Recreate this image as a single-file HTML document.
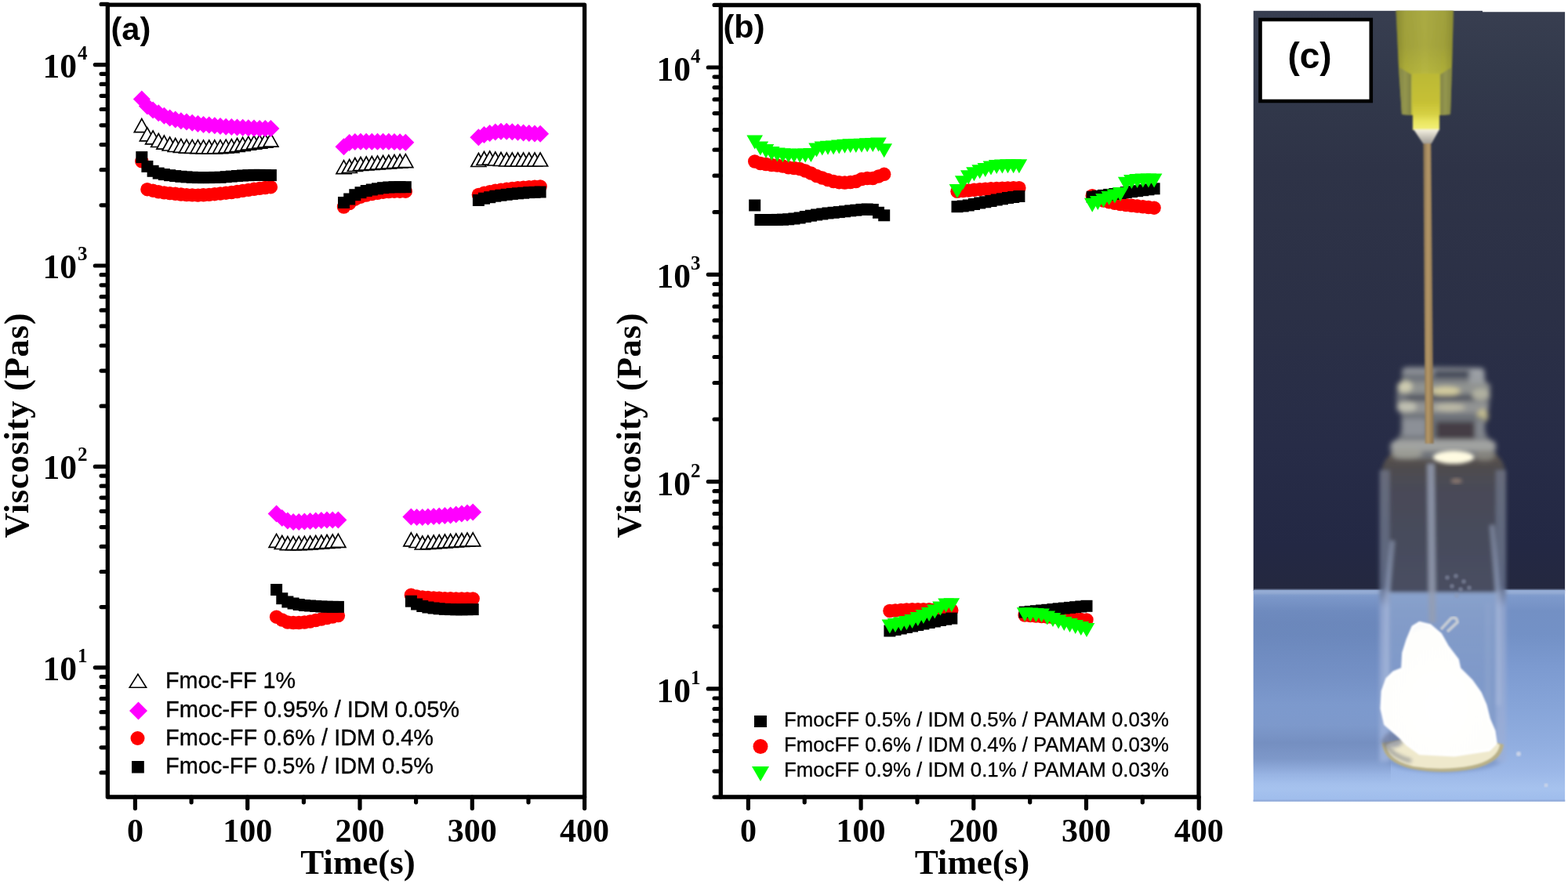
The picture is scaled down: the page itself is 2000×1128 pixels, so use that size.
<!DOCTYPE html>
<html lang="en"><head><meta charset="utf-8"><title>Viscosity recovery of Fmoc-FF hydrogels</title>
<style>html,body{margin:0;padding:0;background:#fff}body{width:2000px;height:1128px;overflow:hidden}svg{display:block}text{fill:#000}</style>
</head><body>
<svg width="2000" height="1128" viewBox="0 0 2000 1128">
<rect width="2000" height="1128" fill="#fff"/>
<g id="chart-a">
<path d="M180.8 151.6L190.3 168.6L171.3 168.6Z" fill="#fff" stroke="#000" stroke-width="1.7" stroke-linejoin="miter"/>
<path d="M187.9 162.8L197.4 179.8L178.4 179.8Z" fill="#fff" stroke="#000" stroke-width="1.7" stroke-linejoin="miter"/>
<path d="M195.1 166.9L204.6 183.9L185.6 183.9Z" fill="#fff" stroke="#000" stroke-width="1.7" stroke-linejoin="miter"/>
<path d="M202.2 170.5L211.7 187.5L192.7 187.5Z" fill="#fff" stroke="#000" stroke-width="1.7" stroke-linejoin="miter"/>
<path d="M209.4 173.1L218.9 190.1L199.9 190.1Z" fill="#fff" stroke="#000" stroke-width="1.7" stroke-linejoin="miter"/>
<path d="M216.6 175.0L226.1 192.0L207.1 192.0Z" fill="#fff" stroke="#000" stroke-width="1.7" stroke-linejoin="miter"/>
<path d="M223.7 176.5L233.2 193.5L214.2 193.5Z" fill="#fff" stroke="#000" stroke-width="1.7" stroke-linejoin="miter"/>
<path d="M230.9 177.4L240.4 194.4L221.4 194.4Z" fill="#fff" stroke="#000" stroke-width="1.7" stroke-linejoin="miter"/>
<path d="M238.0 178.1L247.5 195.1L228.5 195.1Z" fill="#fff" stroke="#000" stroke-width="1.7" stroke-linejoin="miter"/>
<path d="M245.2 178.4L254.7 195.4L235.7 195.4Z" fill="#fff" stroke="#000" stroke-width="1.7" stroke-linejoin="miter"/>
<path d="M252.4 178.7L261.9 195.7L242.9 195.7Z" fill="#fff" stroke="#000" stroke-width="1.7" stroke-linejoin="miter"/>
<path d="M259.5 178.9L269.0 195.9L250.0 195.9Z" fill="#fff" stroke="#000" stroke-width="1.7" stroke-linejoin="miter"/>
<path d="M266.7 179.0L276.2 196.0L257.2 196.0Z" fill="#fff" stroke="#000" stroke-width="1.7" stroke-linejoin="miter"/>
<path d="M273.8 178.8L283.3 195.8L264.3 195.8Z" fill="#fff" stroke="#000" stroke-width="1.7" stroke-linejoin="miter"/>
<path d="M281.0 178.7L290.5 195.7L271.5 195.7Z" fill="#fff" stroke="#000" stroke-width="1.7" stroke-linejoin="miter"/>
<path d="M288.2 178.2L297.7 195.2L278.7 195.2Z" fill="#fff" stroke="#000" stroke-width="1.7" stroke-linejoin="miter"/>
<path d="M295.3 177.7L304.8 194.7L285.8 194.7Z" fill="#fff" stroke="#000" stroke-width="1.7" stroke-linejoin="miter"/>
<path d="M302.5 176.5L312.0 193.5L293.0 193.5Z" fill="#fff" stroke="#000" stroke-width="1.7" stroke-linejoin="miter"/>
<path d="M309.6 175.3L319.1 192.3L300.1 192.3Z" fill="#fff" stroke="#000" stroke-width="1.7" stroke-linejoin="miter"/>
<path d="M316.8 174.2L326.3 191.2L307.3 191.2Z" fill="#fff" stroke="#000" stroke-width="1.7" stroke-linejoin="miter"/>
<path d="M324.0 173.1L333.5 190.1L314.5 190.1Z" fill="#fff" stroke="#000" stroke-width="1.7" stroke-linejoin="miter"/>
<path d="M331.1 172.1L340.6 189.1L321.6 189.1Z" fill="#fff" stroke="#000" stroke-width="1.7" stroke-linejoin="miter"/>
<path d="M338.3 171.1L347.8 188.1L328.8 188.1Z" fill="#fff" stroke="#000" stroke-width="1.7" stroke-linejoin="miter"/>
<path d="M345.4 170.1L354.9 187.1L335.9 187.1Z" fill="#fff" stroke="#000" stroke-width="1.7" stroke-linejoin="miter"/>
<path d="M352.6 681.4L362.1 698.4L343.1 698.4Z" fill="#fff" stroke="#000" stroke-width="1.7" stroke-linejoin="miter"/>
<path d="M359.8 683.5L369.3 700.5L350.3 700.5Z" fill="#fff" stroke="#000" stroke-width="1.7" stroke-linejoin="miter"/>
<path d="M366.9 684.6L376.4 701.6L357.4 701.6Z" fill="#fff" stroke="#000" stroke-width="1.7" stroke-linejoin="miter"/>
<path d="M374.1 684.6L383.6 701.6L364.6 701.6Z" fill="#fff" stroke="#000" stroke-width="1.7" stroke-linejoin="miter"/>
<path d="M381.2 684.6L390.7 701.6L371.7 701.6Z" fill="#fff" stroke="#000" stroke-width="1.7" stroke-linejoin="miter"/>
<path d="M388.4 684.3L397.9 701.3L378.9 701.3Z" fill="#fff" stroke="#000" stroke-width="1.7" stroke-linejoin="miter"/>
<path d="M395.6 684.0L405.1 701.0L386.1 701.0Z" fill="#fff" stroke="#000" stroke-width="1.7" stroke-linejoin="miter"/>
<path d="M402.7 683.5L412.2 700.5L393.2 700.5Z" fill="#fff" stroke="#000" stroke-width="1.7" stroke-linejoin="miter"/>
<path d="M409.9 683.0L419.4 700.0L400.4 700.0Z" fill="#fff" stroke="#000" stroke-width="1.7" stroke-linejoin="miter"/>
<path d="M417.0 682.5L426.5 699.5L407.5 699.5Z" fill="#fff" stroke="#000" stroke-width="1.7" stroke-linejoin="miter"/>
<path d="M424.2 682.0L433.7 699.0L414.7 699.0Z" fill="#fff" stroke="#000" stroke-width="1.7" stroke-linejoin="miter"/>
<path d="M431.4 681.3L440.9 698.3L421.9 698.3Z" fill="#fff" stroke="#000" stroke-width="1.7" stroke-linejoin="miter"/>
<path d="M438.5 204.7L448.0 221.7L429.0 221.7Z" fill="#fff" stroke="#000" stroke-width="1.7" stroke-linejoin="miter"/>
<path d="M445.7 203.5L455.2 220.5L436.2 220.5Z" fill="#fff" stroke="#000" stroke-width="1.7" stroke-linejoin="miter"/>
<path d="M452.8 201.5L462.3 218.5L443.3 218.5Z" fill="#fff" stroke="#000" stroke-width="1.7" stroke-linejoin="miter"/>
<path d="M460.0 200.5L469.5 217.5L450.5 217.5Z" fill="#fff" stroke="#000" stroke-width="1.7" stroke-linejoin="miter"/>
<path d="M467.2 200.0L476.7 217.0L457.7 217.0Z" fill="#fff" stroke="#000" stroke-width="1.7" stroke-linejoin="miter"/>
<path d="M474.3 199.5L483.8 216.5L464.8 216.5Z" fill="#fff" stroke="#000" stroke-width="1.7" stroke-linejoin="miter"/>
<path d="M481.5 199.0L491.0 216.0L472.0 216.0Z" fill="#fff" stroke="#000" stroke-width="1.7" stroke-linejoin="miter"/>
<path d="M488.6 198.5L498.1 215.5L479.1 215.5Z" fill="#fff" stroke="#000" stroke-width="1.7" stroke-linejoin="miter"/>
<path d="M495.8 198.0L505.3 215.0L486.3 215.0Z" fill="#fff" stroke="#000" stroke-width="1.7" stroke-linejoin="miter"/>
<path d="M503.0 197.5L512.5 214.5L493.5 214.5Z" fill="#fff" stroke="#000" stroke-width="1.7" stroke-linejoin="miter"/>
<path d="M510.1 197.0L519.6 214.0L500.6 214.0Z" fill="#fff" stroke="#000" stroke-width="1.7" stroke-linejoin="miter"/>
<path d="M517.3 196.7L526.8 213.7L507.8 213.7Z" fill="#fff" stroke="#000" stroke-width="1.7" stroke-linejoin="miter"/>
<path d="M524.4 679.8L533.9 696.8L514.9 696.8Z" fill="#fff" stroke="#000" stroke-width="1.7" stroke-linejoin="miter"/>
<path d="M531.6 681.5L541.1 698.5L522.1 698.5Z" fill="#fff" stroke="#000" stroke-width="1.7" stroke-linejoin="miter"/>
<path d="M538.8 684.0L548.3 701.0L529.3 701.0Z" fill="#fff" stroke="#000" stroke-width="1.7" stroke-linejoin="miter"/>
<path d="M545.9 683.5L555.4 700.5L536.4 700.5Z" fill="#fff" stroke="#000" stroke-width="1.7" stroke-linejoin="miter"/>
<path d="M553.1 683.0L562.6 700.0L543.6 700.0Z" fill="#fff" stroke="#000" stroke-width="1.7" stroke-linejoin="miter"/>
<path d="M560.2 682.5L569.7 699.5L550.7 699.5Z" fill="#fff" stroke="#000" stroke-width="1.7" stroke-linejoin="miter"/>
<path d="M567.4 682.0L576.9 699.0L557.9 699.0Z" fill="#fff" stroke="#000" stroke-width="1.7" stroke-linejoin="miter"/>
<path d="M574.6 681.5L584.1 698.5L565.1 698.5Z" fill="#fff" stroke="#000" stroke-width="1.7" stroke-linejoin="miter"/>
<path d="M581.7 681.0L591.2 698.0L572.2 698.0Z" fill="#fff" stroke="#000" stroke-width="1.7" stroke-linejoin="miter"/>
<path d="M588.9 680.5L598.4 697.5L579.4 697.5Z" fill="#fff" stroke="#000" stroke-width="1.7" stroke-linejoin="miter"/>
<path d="M596.0 680.0L605.5 697.0L586.5 697.0Z" fill="#fff" stroke="#000" stroke-width="1.7" stroke-linejoin="miter"/>
<path d="M603.2 679.8L612.7 696.8L593.7 696.8Z" fill="#fff" stroke="#000" stroke-width="1.7" stroke-linejoin="miter"/>
<path d="M610.4 195.5L619.9 212.5L600.9 212.5Z" fill="#fff" stroke="#000" stroke-width="1.7" stroke-linejoin="miter"/>
<path d="M617.5 193.5L627.0 210.5L608.0 210.5Z" fill="#fff" stroke="#000" stroke-width="1.7" stroke-linejoin="miter"/>
<path d="M624.7 193.0L634.2 210.0L615.2 210.0Z" fill="#fff" stroke="#000" stroke-width="1.7" stroke-linejoin="miter"/>
<path d="M631.8 194.0L641.3 211.0L622.3 211.0Z" fill="#fff" stroke="#000" stroke-width="1.7" stroke-linejoin="miter"/>
<path d="M639.0 194.5L648.5 211.5L629.5 211.5Z" fill="#fff" stroke="#000" stroke-width="1.7" stroke-linejoin="miter"/>
<path d="M646.2 195.0L655.7 212.0L636.7 212.0Z" fill="#fff" stroke="#000" stroke-width="1.7" stroke-linejoin="miter"/>
<path d="M653.3 195.0L662.8 212.0L643.8 212.0Z" fill="#fff" stroke="#000" stroke-width="1.7" stroke-linejoin="miter"/>
<path d="M660.5 195.0L670.0 212.0L651.0 212.0Z" fill="#fff" stroke="#000" stroke-width="1.7" stroke-linejoin="miter"/>
<path d="M667.6 195.0L677.1 212.0L658.1 212.0Z" fill="#fff" stroke="#000" stroke-width="1.7" stroke-linejoin="miter"/>
<path d="M674.8 195.0L684.3 212.0L665.3 212.0Z" fill="#fff" stroke="#000" stroke-width="1.7" stroke-linejoin="miter"/>
<path d="M682.0 195.0L691.5 212.0L672.5 212.0Z" fill="#fff" stroke="#000" stroke-width="1.7" stroke-linejoin="miter"/>
<path d="M689.1 195.0L698.6 212.0L679.6 212.0Z" fill="#fff" stroke="#000" stroke-width="1.7" stroke-linejoin="miter"/>
<path d="M169.8 126.4L180.8 115.4L191.8 126.4L180.8 137.4Z" fill="#ff00ff"/>
<path d="M176.9 135.6L187.9 124.6L198.9 135.6L187.9 146.6Z" fill="#ff00ff"/>
<path d="M184.1 140.6L195.1 129.6L206.1 140.6L195.1 151.6Z" fill="#ff00ff"/>
<path d="M191.2 144.3L202.2 133.3L213.2 144.3L202.2 155.3Z" fill="#ff00ff"/>
<path d="M198.4 147.8L209.4 136.8L220.4 147.8L209.4 158.8Z" fill="#ff00ff"/>
<path d="M205.6 150.6L216.6 139.6L227.6 150.6L216.6 161.6Z" fill="#ff00ff"/>
<path d="M212.7 152.6L223.7 141.6L234.7 152.6L223.7 163.6Z" fill="#ff00ff"/>
<path d="M219.9 154.3L230.9 143.3L241.9 154.3L230.9 165.3Z" fill="#ff00ff"/>
<path d="M227.0 155.6L238.0 144.6L249.0 155.6L238.0 166.6Z" fill="#ff00ff"/>
<path d="M234.2 156.8L245.2 145.8L256.2 156.8L245.2 167.8Z" fill="#ff00ff"/>
<path d="M241.4 157.9L252.4 146.9L263.4 157.9L252.4 168.9Z" fill="#ff00ff"/>
<path d="M248.5 158.9L259.5 147.9L270.5 158.9L259.5 169.9Z" fill="#ff00ff"/>
<path d="M255.7 159.6L266.7 148.6L277.7 159.6L266.7 170.6Z" fill="#ff00ff"/>
<path d="M262.8 160.3L273.8 149.3L284.8 160.3L273.8 171.3Z" fill="#ff00ff"/>
<path d="M270.0 161.1L281.0 150.1L292.0 161.1L281.0 172.1Z" fill="#ff00ff"/>
<path d="M277.2 161.8L288.2 150.8L299.2 161.8L288.2 172.8Z" fill="#ff00ff"/>
<path d="M284.3 162.1L295.3 151.1L306.3 162.1L295.3 173.1Z" fill="#ff00ff"/>
<path d="M291.5 162.4L302.5 151.4L313.5 162.4L302.5 173.4Z" fill="#ff00ff"/>
<path d="M298.6 162.8L309.6 151.8L320.6 162.8L309.6 173.8Z" fill="#ff00ff"/>
<path d="M305.8 163.2L316.8 152.2L327.8 163.2L316.8 174.2Z" fill="#ff00ff"/>
<path d="M313.0 163.5L324.0 152.5L335.0 163.5L324.0 174.5Z" fill="#ff00ff"/>
<path d="M320.1 163.9L331.1 152.9L342.1 163.9L331.1 174.9Z" fill="#ff00ff"/>
<path d="M327.3 164.0L338.3 153.0L349.3 164.0L338.3 175.0Z" fill="#ff00ff"/>
<path d="M334.4 164.0L345.4 153.0L356.4 164.0L345.4 175.0Z" fill="#ff00ff"/>
<path d="M341.6 655.5L352.6 644.5L363.6 655.5L352.6 666.5Z" fill="#ff00ff"/>
<path d="M348.8 661.0L359.8 650.0L370.8 661.0L359.8 672.0Z" fill="#ff00ff"/>
<path d="M355.9 664.5L366.9 653.5L377.9 664.5L366.9 675.5Z" fill="#ff00ff"/>
<path d="M363.1 666.0L374.1 655.0L385.1 666.0L374.1 677.0Z" fill="#ff00ff"/>
<path d="M370.2 666.0L381.2 655.0L392.2 666.0L381.2 677.0Z" fill="#ff00ff"/>
<path d="M377.4 665.5L388.4 654.5L399.4 665.5L388.4 676.5Z" fill="#ff00ff"/>
<path d="M384.6 665.0L395.6 654.0L406.6 665.0L395.6 676.0Z" fill="#ff00ff"/>
<path d="M391.7 664.5L402.7 653.5L413.7 664.5L402.7 675.5Z" fill="#ff00ff"/>
<path d="M398.9 664.0L409.9 653.0L420.9 664.0L409.9 675.0Z" fill="#ff00ff"/>
<path d="M406.0 663.5L417.0 652.5L428.0 663.5L417.0 674.5Z" fill="#ff00ff"/>
<path d="M413.2 663.5L424.2 652.5L435.2 663.5L424.2 674.5Z" fill="#ff00ff"/>
<path d="M420.4 663.5L431.4 652.5L442.4 663.5L431.4 674.5Z" fill="#ff00ff"/>
<path d="M427.5 187.2L438.5 176.2L449.5 187.2L438.5 198.2Z" fill="#ff00ff"/>
<path d="M434.7 182.0L445.7 171.0L456.7 182.0L445.7 193.0Z" fill="#ff00ff"/>
<path d="M441.8 181.0L452.8 170.0L463.8 181.0L452.8 192.0Z" fill="#ff00ff"/>
<path d="M449.0 180.8L460.0 169.8L471.0 180.8L460.0 191.8Z" fill="#ff00ff"/>
<path d="M456.2 180.8L467.2 169.8L478.2 180.8L467.2 191.8Z" fill="#ff00ff"/>
<path d="M463.3 180.8L474.3 169.8L485.3 180.8L474.3 191.8Z" fill="#ff00ff"/>
<path d="M470.5 180.8L481.5 169.8L492.5 180.8L481.5 191.8Z" fill="#ff00ff"/>
<path d="M477.6 180.8L488.6 169.8L499.6 180.8L488.6 191.8Z" fill="#ff00ff"/>
<path d="M484.8 180.8L495.8 169.8L506.8 180.8L495.8 191.8Z" fill="#ff00ff"/>
<path d="M492.0 181.0L503.0 170.0L514.0 181.0L503.0 192.0Z" fill="#ff00ff"/>
<path d="M499.1 181.3L510.1 170.3L521.1 181.3L510.1 192.3Z" fill="#ff00ff"/>
<path d="M506.3 181.7L517.3 170.7L528.3 181.7L517.3 192.7Z" fill="#ff00ff"/>
<path d="M513.4 659.5L524.4 648.5L535.4 659.5L524.4 670.5Z" fill="#ff00ff"/>
<path d="M520.6 660.0L531.6 649.0L542.6 660.0L531.6 671.0Z" fill="#ff00ff"/>
<path d="M527.8 660.0L538.8 649.0L549.8 660.0L538.8 671.0Z" fill="#ff00ff"/>
<path d="M534.9 659.5L545.9 648.5L556.9 659.5L545.9 670.5Z" fill="#ff00ff"/>
<path d="M542.1 659.0L553.1 648.0L564.1 659.0L553.1 670.0Z" fill="#ff00ff"/>
<path d="M549.2 658.5L560.2 647.5L571.2 658.5L560.2 669.5Z" fill="#ff00ff"/>
<path d="M556.4 658.0L567.4 647.0L578.4 658.0L567.4 669.0Z" fill="#ff00ff"/>
<path d="M563.6 657.5L574.6 646.5L585.6 657.5L574.6 668.5Z" fill="#ff00ff"/>
<path d="M570.7 656.5L581.7 645.5L592.7 656.5L581.7 667.5Z" fill="#ff00ff"/>
<path d="M577.9 655.5L588.9 644.5L599.9 655.5L588.9 666.5Z" fill="#ff00ff"/>
<path d="M585.0 654.5L596.0 643.5L607.0 654.5L596.0 665.5Z" fill="#ff00ff"/>
<path d="M592.2 653.6L603.2 642.6L614.2 653.6L603.2 664.6Z" fill="#ff00ff"/>
<path d="M599.4 175.2L610.4 164.2L621.4 175.2L610.4 186.2Z" fill="#ff00ff"/>
<path d="M606.5 172.0L617.5 161.0L628.5 172.0L617.5 183.0Z" fill="#ff00ff"/>
<path d="M613.7 170.0L624.7 159.0L635.7 170.0L624.7 181.0Z" fill="#ff00ff"/>
<path d="M620.8 168.5L631.8 157.5L642.8 168.5L631.8 179.5Z" fill="#ff00ff"/>
<path d="M628.0 167.8L639.0 156.8L650.0 167.8L639.0 178.8Z" fill="#ff00ff"/>
<path d="M635.2 167.8L646.2 156.8L657.2 167.8L646.2 178.8Z" fill="#ff00ff"/>
<path d="M642.3 168.2L653.3 157.2L664.3 168.2L653.3 179.2Z" fill="#ff00ff"/>
<path d="M649.5 168.8L660.5 157.8L671.5 168.8L660.5 179.8Z" fill="#ff00ff"/>
<path d="M656.6 169.5L667.6 158.5L678.6 169.5L667.6 180.5Z" fill="#ff00ff"/>
<path d="M663.8 170.0L674.8 159.0L685.8 170.0L674.8 181.0Z" fill="#ff00ff"/>
<path d="M671.0 170.5L682.0 159.5L693.0 170.5L682.0 181.5Z" fill="#ff00ff"/>
<path d="M678.1 170.8L689.1 159.8L700.1 170.8L689.1 181.8Z" fill="#ff00ff"/>
<circle cx="180.8" cy="205.8" r="8.7" fill="#ff0000"/>
<circle cx="187.9" cy="241.7" r="8.7" fill="#ff0000"/>
<circle cx="195.1" cy="243.2" r="8.7" fill="#ff0000"/>
<circle cx="202.2" cy="244.8" r="8.7" fill="#ff0000"/>
<circle cx="209.4" cy="245.9" r="8.7" fill="#ff0000"/>
<circle cx="216.6" cy="246.6" r="8.7" fill="#ff0000"/>
<circle cx="223.7" cy="247.3" r="8.7" fill="#ff0000"/>
<circle cx="230.9" cy="248.0" r="8.7" fill="#ff0000"/>
<circle cx="238.0" cy="248.6" r="8.7" fill="#ff0000"/>
<circle cx="245.2" cy="248.9" r="8.7" fill="#ff0000"/>
<circle cx="252.4" cy="249.1" r="8.7" fill="#ff0000"/>
<circle cx="259.5" cy="248.8" r="8.7" fill="#ff0000"/>
<circle cx="266.7" cy="248.4" r="8.7" fill="#ff0000"/>
<circle cx="273.8" cy="247.7" r="8.7" fill="#ff0000"/>
<circle cx="281.0" cy="247.0" r="8.7" fill="#ff0000"/>
<circle cx="288.2" cy="246.2" r="8.7" fill="#ff0000"/>
<circle cx="295.3" cy="245.5" r="8.7" fill="#ff0000"/>
<circle cx="302.5" cy="244.5" r="8.7" fill="#ff0000"/>
<circle cx="309.6" cy="243.4" r="8.7" fill="#ff0000"/>
<circle cx="316.8" cy="242.4" r="8.7" fill="#ff0000"/>
<circle cx="324.0" cy="241.3" r="8.7" fill="#ff0000"/>
<circle cx="331.1" cy="240.4" r="8.7" fill="#ff0000"/>
<circle cx="338.3" cy="239.5" r="8.7" fill="#ff0000"/>
<circle cx="345.4" cy="238.7" r="8.7" fill="#ff0000"/>
<circle cx="352.6" cy="787.2" r="8.7" fill="#ff0000"/>
<circle cx="359.8" cy="791.0" r="8.7" fill="#ff0000"/>
<circle cx="366.9" cy="794.0" r="8.7" fill="#ff0000"/>
<circle cx="374.1" cy="794.5" r="8.7" fill="#ff0000"/>
<circle cx="381.2" cy="794.5" r="8.7" fill="#ff0000"/>
<circle cx="388.4" cy="794.0" r="8.7" fill="#ff0000"/>
<circle cx="395.6" cy="793.0" r="8.7" fill="#ff0000"/>
<circle cx="402.7" cy="791.5" r="8.7" fill="#ff0000"/>
<circle cx="409.9" cy="790.0" r="8.7" fill="#ff0000"/>
<circle cx="417.0" cy="788.5" r="8.7" fill="#ff0000"/>
<circle cx="424.2" cy="787.0" r="8.7" fill="#ff0000"/>
<circle cx="431.4" cy="785.6" r="8.7" fill="#ff0000"/>
<circle cx="438.5" cy="264.0" r="8.7" fill="#ff0000"/>
<circle cx="445.7" cy="259.5" r="8.7" fill="#ff0000"/>
<circle cx="452.8" cy="254.2" r="8.7" fill="#ff0000"/>
<circle cx="460.0" cy="251.2" r="8.7" fill="#ff0000"/>
<circle cx="467.2" cy="249.0" r="8.7" fill="#ff0000"/>
<circle cx="474.3" cy="247.5" r="8.7" fill="#ff0000"/>
<circle cx="481.5" cy="246.3" r="8.7" fill="#ff0000"/>
<circle cx="488.6" cy="245.2" r="8.7" fill="#ff0000"/>
<circle cx="495.8" cy="244.5" r="8.7" fill="#ff0000"/>
<circle cx="503.0" cy="244.2" r="8.7" fill="#ff0000"/>
<circle cx="510.1" cy="244.2" r="8.7" fill="#ff0000"/>
<circle cx="517.3" cy="244.2" r="8.7" fill="#ff0000"/>
<circle cx="524.4" cy="759.2" r="8.7" fill="#ff0000"/>
<circle cx="531.6" cy="761.0" r="8.7" fill="#ff0000"/>
<circle cx="538.8" cy="762.0" r="8.7" fill="#ff0000"/>
<circle cx="545.9" cy="762.5" r="8.7" fill="#ff0000"/>
<circle cx="553.1" cy="763.0" r="8.7" fill="#ff0000"/>
<circle cx="560.2" cy="763.3" r="8.7" fill="#ff0000"/>
<circle cx="567.4" cy="763.6" r="8.7" fill="#ff0000"/>
<circle cx="574.6" cy="763.8" r="8.7" fill="#ff0000"/>
<circle cx="581.7" cy="764.0" r="8.7" fill="#ff0000"/>
<circle cx="588.9" cy="764.0" r="8.7" fill="#ff0000"/>
<circle cx="596.0" cy="764.0" r="8.7" fill="#ff0000"/>
<circle cx="603.2" cy="764.0" r="8.7" fill="#ff0000"/>
<circle cx="610.4" cy="248.5" r="8.7" fill="#ff0000"/>
<circle cx="617.5" cy="246.2" r="8.7" fill="#ff0000"/>
<circle cx="624.7" cy="244.7" r="8.7" fill="#ff0000"/>
<circle cx="631.8" cy="243.2" r="8.7" fill="#ff0000"/>
<circle cx="639.0" cy="242.2" r="8.7" fill="#ff0000"/>
<circle cx="646.2" cy="241.3" r="8.7" fill="#ff0000"/>
<circle cx="653.3" cy="240.4" r="8.7" fill="#ff0000"/>
<circle cx="660.5" cy="239.8" r="8.7" fill="#ff0000"/>
<circle cx="667.6" cy="239.2" r="8.7" fill="#ff0000"/>
<circle cx="674.8" cy="238.6" r="8.7" fill="#ff0000"/>
<circle cx="682.0" cy="238.3" r="8.7" fill="#ff0000"/>
<circle cx="689.1" cy="238.0" r="8.7" fill="#ff0000"/>
<rect x="173.3" y="193.1" width="15" height="15" fill="#000"/>
<rect x="180.4" y="204.9" width="15" height="15" fill="#000"/>
<rect x="187.6" y="210.8" width="15" height="15" fill="#000"/>
<rect x="194.7" y="213.6" width="15" height="15" fill="#000"/>
<rect x="201.9" y="215.1" width="15" height="15" fill="#000"/>
<rect x="209.1" y="216.2" width="15" height="15" fill="#000"/>
<rect x="216.2" y="217.1" width="15" height="15" fill="#000"/>
<rect x="223.4" y="217.8" width="15" height="15" fill="#000"/>
<rect x="230.5" y="218.4" width="15" height="15" fill="#000"/>
<rect x="237.7" y="218.8" width="15" height="15" fill="#000"/>
<rect x="244.9" y="219.1" width="15" height="15" fill="#000"/>
<rect x="252.0" y="219.1" width="15" height="15" fill="#000"/>
<rect x="259.2" y="219.1" width="15" height="15" fill="#000"/>
<rect x="266.3" y="218.9" width="15" height="15" fill="#000"/>
<rect x="273.5" y="218.8" width="15" height="15" fill="#000"/>
<rect x="280.7" y="218.2" width="15" height="15" fill="#000"/>
<rect x="287.8" y="217.6" width="15" height="15" fill="#000"/>
<rect x="295.0" y="217.0" width="15" height="15" fill="#000"/>
<rect x="302.1" y="216.5" width="15" height="15" fill="#000"/>
<rect x="309.3" y="216.2" width="15" height="15" fill="#000"/>
<rect x="316.5" y="215.9" width="15" height="15" fill="#000"/>
<rect x="323.6" y="215.9" width="15" height="15" fill="#000"/>
<rect x="330.8" y="216.0" width="15" height="15" fill="#000"/>
<rect x="337.9" y="216.1" width="15" height="15" fill="#000"/>
<rect x="345.1" y="745.0" width="15" height="15" fill="#000"/>
<rect x="352.3" y="756.2" width="15" height="15" fill="#000"/>
<rect x="359.4" y="760.5" width="15" height="15" fill="#000"/>
<rect x="366.6" y="762.5" width="15" height="15" fill="#000"/>
<rect x="373.7" y="764.0" width="15" height="15" fill="#000"/>
<rect x="380.9" y="765.0" width="15" height="15" fill="#000"/>
<rect x="388.1" y="765.5" width="15" height="15" fill="#000"/>
<rect x="395.2" y="766.0" width="15" height="15" fill="#000"/>
<rect x="402.4" y="766.5" width="15" height="15" fill="#000"/>
<rect x="409.5" y="766.7" width="15" height="15" fill="#000"/>
<rect x="416.7" y="766.9" width="15" height="15" fill="#000"/>
<rect x="423.9" y="766.9" width="15" height="15" fill="#000"/>
<rect x="431.0" y="251.0" width="15" height="15" fill="#000"/>
<rect x="438.2" y="246.5" width="15" height="15" fill="#000"/>
<rect x="445.3" y="241.2" width="15" height="15" fill="#000"/>
<rect x="452.5" y="238.2" width="15" height="15" fill="#000"/>
<rect x="459.7" y="236.0" width="15" height="15" fill="#000"/>
<rect x="466.8" y="234.5" width="15" height="15" fill="#000"/>
<rect x="474.0" y="233.3" width="15" height="15" fill="#000"/>
<rect x="481.1" y="232.2" width="15" height="15" fill="#000"/>
<rect x="488.3" y="231.5" width="15" height="15" fill="#000"/>
<rect x="495.5" y="231.2" width="15" height="15" fill="#000"/>
<rect x="502.6" y="231.2" width="15" height="15" fill="#000"/>
<rect x="509.8" y="231.2" width="15" height="15" fill="#000"/>
<rect x="516.9" y="759.7" width="15" height="15" fill="#000"/>
<rect x="524.1" y="763.5" width="15" height="15" fill="#000"/>
<rect x="531.3" y="766.0" width="15" height="15" fill="#000"/>
<rect x="538.4" y="767.5" width="15" height="15" fill="#000"/>
<rect x="545.6" y="768.5" width="15" height="15" fill="#000"/>
<rect x="552.7" y="769.3" width="15" height="15" fill="#000"/>
<rect x="559.9" y="769.8" width="15" height="15" fill="#000"/>
<rect x="567.1" y="770.1" width="15" height="15" fill="#000"/>
<rect x="574.2" y="770.3" width="15" height="15" fill="#000"/>
<rect x="581.4" y="770.3" width="15" height="15" fill="#000"/>
<rect x="588.5" y="770.2" width="15" height="15" fill="#000"/>
<rect x="595.7" y="770.1" width="15" height="15" fill="#000"/>
<rect x="602.9" y="248.0" width="15" height="15" fill="#000"/>
<rect x="610.0" y="245.7" width="15" height="15" fill="#000"/>
<rect x="617.2" y="244.2" width="15" height="15" fill="#000"/>
<rect x="624.3" y="242.7" width="15" height="15" fill="#000"/>
<rect x="631.5" y="241.7" width="15" height="15" fill="#000"/>
<rect x="638.7" y="240.8" width="15" height="15" fill="#000"/>
<rect x="645.8" y="239.9" width="15" height="15" fill="#000"/>
<rect x="653.0" y="239.3" width="15" height="15" fill="#000"/>
<rect x="660.1" y="238.7" width="15" height="15" fill="#000"/>
<rect x="667.3" y="238.1" width="15" height="15" fill="#000"/>
<rect x="674.5" y="237.8" width="15" height="15" fill="#000"/>
<rect x="681.6" y="237.5" width="15" height="15" fill="#000"/>
<rect x="137.3" y="6.2" width="608.3" height="1010.8" fill="none" stroke="#000" stroke-width="5.3" stroke-linejoin="round"/>
<path d="M129.1 985.9H137.3 M129.1 953.8H137.3 M129.1 929.0H137.3 M129.1 908.7H137.3 M129.1 891.5H137.3 M129.1 876.6H137.3 M129.1 863.5H137.3 M121.3 851.8H137.3 M129.1 774.6H137.3 M129.1 729.5H137.3 M129.1 697.4H137.3 M129.1 672.6H137.3 M129.1 652.3H137.3 M129.1 635.1H137.3 M129.1 620.2H137.3 M129.1 607.1H137.3 M121.3 595.4H137.3 M129.1 518.2H137.3 M129.1 473.1H137.3 M129.1 441.0H137.3 M129.1 416.2H137.3 M129.1 395.9H137.3 M129.1 378.7H137.3 M129.1 363.8H137.3 M129.1 350.7H137.3 M121.3 339.0H137.3 M129.1 261.8H137.3 M129.1 216.7H137.3 M129.1 184.6H137.3 M129.1 159.8H137.3 M129.1 139.5H137.3 M129.1 122.3H137.3 M129.1 107.4H137.3 M129.1 94.3H137.3 M121.3 82.6H137.3 M129.1 5.4H137.3" stroke="#000" stroke-width="5.2" stroke-linecap="round" fill="none"/>
<path d="M172.4 1017V1031.6 M244.1 1017V1023.8 M315.7 1017V1031.6 M387.4 1017V1023.8 M459.0 1017V1031.6 M530.6 1017V1023.8 M602.3 1017V1031.6 M674.0 1017V1023.8 M745.6 1017V1031.6" stroke="#000" stroke-width="5.2" stroke-linecap="round" fill="none"/>
<text x="172.4" y="1074" text-anchor="middle" font-family='"Liberation Serif", "DejaVu Serif", serif' font-weight="bold" font-size="42">0</text>
<text x="315.7" y="1074" text-anchor="middle" font-family='"Liberation Serif", "DejaVu Serif", serif' font-weight="bold" font-size="42">100</text>
<text x="459.0" y="1074" text-anchor="middle" font-family='"Liberation Serif", "DejaVu Serif", serif' font-weight="bold" font-size="42">200</text>
<text x="602.3" y="1074" text-anchor="middle" font-family='"Liberation Serif", "DejaVu Serif", serif' font-weight="bold" font-size="42">300</text>
<text x="745.6" y="1074" text-anchor="middle" font-family='"Liberation Serif", "DejaVu Serif", serif' font-weight="bold" font-size="42">400</text>
<text x="98" y="867.8" text-anchor="end" font-family='"Liberation Serif", "DejaVu Serif", serif' font-weight="bold" font-size="43.5">10</text>
<text x="99" y="844.8" font-family='"Liberation Serif", "DejaVu Serif", serif' font-weight="bold" font-size="25">1</text>
<text x="98" y="611.4" text-anchor="end" font-family='"Liberation Serif", "DejaVu Serif", serif' font-weight="bold" font-size="43.5">10</text>
<text x="99" y="588.4" font-family='"Liberation Serif", "DejaVu Serif", serif' font-weight="bold" font-size="25">2</text>
<text x="98" y="355.0" text-anchor="end" font-family='"Liberation Serif", "DejaVu Serif", serif' font-weight="bold" font-size="43.5">10</text>
<text x="99" y="332.0" font-family='"Liberation Serif", "DejaVu Serif", serif' font-weight="bold" font-size="25">3</text>
<text x="98" y="98.6" text-anchor="end" font-family='"Liberation Serif", "DejaVu Serif", serif' font-weight="bold" font-size="43.5">10</text>
<text x="99" y="75.6" font-family='"Liberation Serif", "DejaVu Serif", serif' font-weight="bold" font-size="25">4</text>
<text x="456.5" y="1114.5" text-anchor="middle" font-family='"Liberation Serif", "DejaVu Serif", serif' font-weight="bold" font-size="45">Time(s)</text>
<text transform="translate(36 543) rotate(-90)" text-anchor="middle" font-family='"Liberation Serif", "DejaVu Serif", serif' font-weight="bold" font-size="44.5" textLength="287" lengthAdjust="spacing">Viscosity (Pas)</text>
<text x="141.5" y="51.3" font-family='"Liberation Sans", "DejaVu Sans", sans-serif' font-weight="bold" font-size="41.5">(a)</text>
<path d="M175.9 860.3L186.6 877.3L165.2 877.3Z" fill="#fff" stroke="#000" stroke-width="1.6"/>
<path d="M165.0 907L176.5 895.5L188.0 907L176.5 918.5Z" fill="#ff00ff"/>
<circle cx="175.5" cy="942" r="9" fill="#ff0000"/>
<rect x="168.0" y="971" width="15.8" height="15.5" fill="#000"/>
<text x="211" y="878.3" font-family='"Liberation Sans", "DejaVu Sans", sans-serif' font-size="30" stroke="#000" stroke-width="0.35" textLength="166" lengthAdjust="spacingAndGlyphs">Fmoc-FF 1%</text>
<text x="211" y="914.8" font-family='"Liberation Sans", "DejaVu Sans", sans-serif' font-size="30" stroke="#000" stroke-width="0.35" textLength="375" lengthAdjust="spacingAndGlyphs">Fmoc-FF 0.95% / IDM 0.05%</text>
<text x="211" y="950.8" font-family='"Liberation Sans", "DejaVu Sans", sans-serif' font-size="30" stroke="#000" stroke-width="0.35" textLength="342" lengthAdjust="spacingAndGlyphs">Fmoc-FF 0.6% / IDM 0.4%</text>
<text x="211" y="986.8" font-family='"Liberation Sans", "DejaVu Sans", sans-serif' font-size="30" stroke="#000" stroke-width="0.35" textLength="342" lengthAdjust="spacingAndGlyphs">Fmoc-FF 0.5% / IDM 0.5%</text>
</g>
<g id="chart-b">
<circle cx="962.7" cy="206.0" r="8.7" fill="#ff0000"/>
<circle cx="969.9" cy="208.5" r="8.7" fill="#ff0000"/>
<circle cx="977.0" cy="209.5" r="8.7" fill="#ff0000"/>
<circle cx="984.2" cy="210.5" r="8.7" fill="#ff0000"/>
<circle cx="991.4" cy="211.0" r="8.7" fill="#ff0000"/>
<circle cx="998.5" cy="212.0" r="8.7" fill="#ff0000"/>
<circle cx="1005.7" cy="213.8" r="8.7" fill="#ff0000"/>
<circle cx="1012.9" cy="214.5" r="8.7" fill="#ff0000"/>
<circle cx="1020.1" cy="215.5" r="8.7" fill="#ff0000"/>
<circle cx="1027.2" cy="218.0" r="8.7" fill="#ff0000"/>
<circle cx="1034.4" cy="221.0" r="8.7" fill="#ff0000"/>
<circle cx="1041.6" cy="224.5" r="8.7" fill="#ff0000"/>
<circle cx="1048.8" cy="227.0" r="8.7" fill="#ff0000"/>
<circle cx="1056.0" cy="229.5" r="8.7" fill="#ff0000"/>
<circle cx="1063.1" cy="231.5" r="8.7" fill="#ff0000"/>
<circle cx="1070.3" cy="232.7" r="8.7" fill="#ff0000"/>
<circle cx="1077.5" cy="233.0" r="8.7" fill="#ff0000"/>
<circle cx="1084.7" cy="232.5" r="8.7" fill="#ff0000"/>
<circle cx="1091.8" cy="231.5" r="8.7" fill="#ff0000"/>
<circle cx="1099.0" cy="228.5" r="8.7" fill="#ff0000"/>
<circle cx="1106.2" cy="227.5" r="8.7" fill="#ff0000"/>
<circle cx="1113.3" cy="227.5" r="8.7" fill="#ff0000"/>
<circle cx="1120.5" cy="225.0" r="8.7" fill="#ff0000"/>
<circle cx="1127.7" cy="222.3" r="8.7" fill="#ff0000"/>
<circle cx="1134.9" cy="779.5" r="8.7" fill="#ff0000"/>
<circle cx="1142.0" cy="779.0" r="8.7" fill="#ff0000"/>
<circle cx="1149.2" cy="778.5" r="8.7" fill="#ff0000"/>
<circle cx="1156.4" cy="778.0" r="8.7" fill="#ff0000"/>
<circle cx="1163.6" cy="777.8" r="8.7" fill="#ff0000"/>
<circle cx="1170.8" cy="777.6" r="8.7" fill="#ff0000"/>
<circle cx="1177.9" cy="777.6" r="8.7" fill="#ff0000"/>
<circle cx="1185.1" cy="777.8" r="8.7" fill="#ff0000"/>
<circle cx="1192.3" cy="778.0" r="8.7" fill="#ff0000"/>
<circle cx="1199.5" cy="778.3" r="8.7" fill="#ff0000"/>
<circle cx="1206.6" cy="778.5" r="8.7" fill="#ff0000"/>
<circle cx="1213.8" cy="778.7" r="8.7" fill="#ff0000"/>
<circle cx="1221.0" cy="244.3" r="8.7" fill="#ff0000"/>
<circle cx="1228.2" cy="243.5" r="8.7" fill="#ff0000"/>
<circle cx="1235.3" cy="243.0" r="8.7" fill="#ff0000"/>
<circle cx="1242.5" cy="242.3" r="8.7" fill="#ff0000"/>
<circle cx="1249.7" cy="241.7" r="8.7" fill="#ff0000"/>
<circle cx="1256.8" cy="241.2" r="8.7" fill="#ff0000"/>
<circle cx="1264.0" cy="240.8" r="8.7" fill="#ff0000"/>
<circle cx="1271.2" cy="240.5" r="8.7" fill="#ff0000"/>
<circle cx="1278.4" cy="240.2" r="8.7" fill="#ff0000"/>
<circle cx="1285.5" cy="240.0" r="8.7" fill="#ff0000"/>
<circle cx="1292.7" cy="239.8" r="8.7" fill="#ff0000"/>
<circle cx="1299.9" cy="239.7" r="8.7" fill="#ff0000"/>
<circle cx="1307.1" cy="785.0" r="8.7" fill="#ff0000"/>
<circle cx="1314.2" cy="785.5" r="8.7" fill="#ff0000"/>
<circle cx="1321.4" cy="786.1" r="8.7" fill="#ff0000"/>
<circle cx="1328.6" cy="786.6" r="8.7" fill="#ff0000"/>
<circle cx="1335.8" cy="787.2" r="8.7" fill="#ff0000"/>
<circle cx="1343.0" cy="787.7" r="8.7" fill="#ff0000"/>
<circle cx="1350.1" cy="788.3" r="8.7" fill="#ff0000"/>
<circle cx="1357.3" cy="788.8" r="8.7" fill="#ff0000"/>
<circle cx="1364.5" cy="789.4" r="8.7" fill="#ff0000"/>
<circle cx="1371.7" cy="789.9" r="8.7" fill="#ff0000"/>
<circle cx="1378.8" cy="790.5" r="8.7" fill="#ff0000"/>
<circle cx="1386.0" cy="791.0" r="8.7" fill="#ff0000"/>
<circle cx="1393.2" cy="249.7" r="8.7" fill="#ff0000"/>
<circle cx="1400.3" cy="253.5" r="8.7" fill="#ff0000"/>
<circle cx="1407.5" cy="256.0" r="8.7" fill="#ff0000"/>
<circle cx="1414.7" cy="257.8" r="8.7" fill="#ff0000"/>
<circle cx="1421.9" cy="259.3" r="8.7" fill="#ff0000"/>
<circle cx="1429.0" cy="260.6" r="8.7" fill="#ff0000"/>
<circle cx="1436.2" cy="261.5" r="8.7" fill="#ff0000"/>
<circle cx="1443.4" cy="262.3" r="8.7" fill="#ff0000"/>
<circle cx="1450.6" cy="263.0" r="8.7" fill="#ff0000"/>
<circle cx="1457.8" cy="263.8" r="8.7" fill="#ff0000"/>
<circle cx="1464.9" cy="264.5" r="8.7" fill="#ff0000"/>
<circle cx="1472.1" cy="265.2" r="8.7" fill="#ff0000"/>
<rect x="955.2" y="254.5" width="15" height="15" fill="#000"/>
<rect x="962.4" y="273.0" width="15" height="15" fill="#000"/>
<rect x="969.5" y="273.0" width="15" height="15" fill="#000"/>
<rect x="976.7" y="273.0" width="15" height="15" fill="#000"/>
<rect x="983.9" y="272.9" width="15" height="15" fill="#000"/>
<rect x="991.0" y="272.7" width="15" height="15" fill="#000"/>
<rect x="998.2" y="272.3" width="15" height="15" fill="#000"/>
<rect x="1005.4" y="271.5" width="15" height="15" fill="#000"/>
<rect x="1012.6" y="270.5" width="15" height="15" fill="#000"/>
<rect x="1019.8" y="269.0" width="15" height="15" fill="#000"/>
<rect x="1026.9" y="267.7" width="15" height="15" fill="#000"/>
<rect x="1034.1" y="266.5" width="15" height="15" fill="#000"/>
<rect x="1041.3" y="265.5" width="15" height="15" fill="#000"/>
<rect x="1048.5" y="264.5" width="15" height="15" fill="#000"/>
<rect x="1055.6" y="263.8" width="15" height="15" fill="#000"/>
<rect x="1062.8" y="263.1" width="15" height="15" fill="#000"/>
<rect x="1070.0" y="262.3" width="15" height="15" fill="#000"/>
<rect x="1077.2" y="261.4" width="15" height="15" fill="#000"/>
<rect x="1084.3" y="260.7" width="15" height="15" fill="#000"/>
<rect x="1091.5" y="259.9" width="15" height="15" fill="#000"/>
<rect x="1098.7" y="259.5" width="15" height="15" fill="#000"/>
<rect x="1105.8" y="260.0" width="15" height="15" fill="#000"/>
<rect x="1113.0" y="263.8" width="15" height="15" fill="#000"/>
<rect x="1120.2" y="267.3" width="15" height="15" fill="#000"/>
<rect x="1127.4" y="797.5" width="15" height="15" fill="#000"/>
<rect x="1134.5" y="796.0" width="15" height="15" fill="#000"/>
<rect x="1141.7" y="794.5" width="15" height="15" fill="#000"/>
<rect x="1148.9" y="793.0" width="15" height="15" fill="#000"/>
<rect x="1156.1" y="791.5" width="15" height="15" fill="#000"/>
<rect x="1163.2" y="790.0" width="15" height="15" fill="#000"/>
<rect x="1170.4" y="788.5" width="15" height="15" fill="#000"/>
<rect x="1177.6" y="787.0" width="15" height="15" fill="#000"/>
<rect x="1184.8" y="785.5" width="15" height="15" fill="#000"/>
<rect x="1192.0" y="784.0" width="15" height="15" fill="#000"/>
<rect x="1199.1" y="782.7" width="15" height="15" fill="#000"/>
<rect x="1206.3" y="781.6" width="15" height="15" fill="#000"/>
<rect x="1213.5" y="256.2" width="15" height="15" fill="#000"/>
<rect x="1220.7" y="255.5" width="15" height="15" fill="#000"/>
<rect x="1227.8" y="254.5" width="15" height="15" fill="#000"/>
<rect x="1235.0" y="253.0" width="15" height="15" fill="#000"/>
<rect x="1242.2" y="251.5" width="15" height="15" fill="#000"/>
<rect x="1249.3" y="250.3" width="15" height="15" fill="#000"/>
<rect x="1256.5" y="249.0" width="15" height="15" fill="#000"/>
<rect x="1263.7" y="247.5" width="15" height="15" fill="#000"/>
<rect x="1270.9" y="246.3" width="15" height="15" fill="#000"/>
<rect x="1278.0" y="245.0" width="15" height="15" fill="#000"/>
<rect x="1285.2" y="244.0" width="15" height="15" fill="#000"/>
<rect x="1292.4" y="243.0" width="15" height="15" fill="#000"/>
<rect x="1299.6" y="773.6" width="15" height="15" fill="#000"/>
<rect x="1306.8" y="772.9" width="15" height="15" fill="#000"/>
<rect x="1313.9" y="772.2" width="15" height="15" fill="#000"/>
<rect x="1321.1" y="771.5" width="15" height="15" fill="#000"/>
<rect x="1328.3" y="770.8" width="15" height="15" fill="#000"/>
<rect x="1335.5" y="770.1" width="15" height="15" fill="#000"/>
<rect x="1342.6" y="769.3" width="15" height="15" fill="#000"/>
<rect x="1349.8" y="768.6" width="15" height="15" fill="#000"/>
<rect x="1357.0" y="767.9" width="15" height="15" fill="#000"/>
<rect x="1364.2" y="767.2" width="15" height="15" fill="#000"/>
<rect x="1371.3" y="766.5" width="15" height="15" fill="#000"/>
<rect x="1378.5" y="765.8" width="15" height="15" fill="#000"/>
<rect x="1385.7" y="243.8" width="15" height="15" fill="#000"/>
<rect x="1392.8" y="242.8" width="15" height="15" fill="#000"/>
<rect x="1400.0" y="241.9" width="15" height="15" fill="#000"/>
<rect x="1407.2" y="240.9" width="15" height="15" fill="#000"/>
<rect x="1414.4" y="240.0" width="15" height="15" fill="#000"/>
<rect x="1421.5" y="239.0" width="15" height="15" fill="#000"/>
<rect x="1428.7" y="238.1" width="15" height="15" fill="#000"/>
<rect x="1435.9" y="237.1" width="15" height="15" fill="#000"/>
<rect x="1443.1" y="236.2" width="15" height="15" fill="#000"/>
<rect x="1450.2" y="235.2" width="15" height="15" fill="#000"/>
<rect x="1457.4" y="234.3" width="15" height="15" fill="#000"/>
<rect x="1464.6" y="233.3" width="15" height="15" fill="#000"/>
<path d="M952.4 172.4L973.0 172.4L962.7 190.4Z" fill="#00ff00"/>
<path d="M959.6 180.5L980.1 180.5L969.9 198.5Z" fill="#00ff00"/>
<path d="M966.7 184.0L987.3 184.0L977.0 202.0Z" fill="#00ff00"/>
<path d="M973.9 187.0L994.5 187.0L984.2 205.0Z" fill="#00ff00"/>
<path d="M981.1 188.5L1001.7 188.5L991.4 206.5Z" fill="#00ff00"/>
<path d="M988.2 189.3L1008.8 189.3L998.5 207.3Z" fill="#00ff00"/>
<path d="M995.4 189.7L1016.0 189.7L1005.7 207.7Z" fill="#00ff00"/>
<path d="M1002.6 189.7L1023.2 189.7L1012.9 207.7Z" fill="#00ff00"/>
<path d="M1009.8 189.7L1030.4 189.7L1020.1 207.7Z" fill="#00ff00"/>
<path d="M1017.0 189.5L1037.5 189.5L1027.2 207.5Z" fill="#00ff00"/>
<path d="M1024.1 189.0L1044.7 189.0L1034.4 207.0Z" fill="#00ff00"/>
<path d="M1031.3 182.6L1051.9 182.6L1041.6 200.6Z" fill="#00ff00"/>
<path d="M1038.5 180.5L1059.1 180.5L1048.8 198.5Z" fill="#00ff00"/>
<path d="M1045.7 179.8L1066.2 179.8L1056.0 197.8Z" fill="#00ff00"/>
<path d="M1052.8 179.5L1073.4 179.5L1063.1 197.5Z" fill="#00ff00"/>
<path d="M1060.0 178.5L1080.6 178.5L1070.3 196.5Z" fill="#00ff00"/>
<path d="M1067.2 177.7L1087.8 177.7L1077.5 195.7Z" fill="#00ff00"/>
<path d="M1074.4 177.2L1095.0 177.2L1084.7 195.2Z" fill="#00ff00"/>
<path d="M1081.5 177.0L1102.1 177.0L1091.8 195.0Z" fill="#00ff00"/>
<path d="M1088.7 176.7L1109.3 176.7L1099.0 194.7Z" fill="#00ff00"/>
<path d="M1095.9 176.3L1116.5 176.3L1106.2 194.3Z" fill="#00ff00"/>
<path d="M1103.0 176.0L1123.6 176.0L1113.3 194.0Z" fill="#00ff00"/>
<path d="M1110.2 175.5L1130.8 175.5L1120.5 193.5Z" fill="#00ff00"/>
<path d="M1117.4 183.3L1138.0 183.3L1127.7 201.3Z" fill="#00ff00"/>
<path d="M1124.6 790.4L1145.2 790.4L1134.9 808.4Z" fill="#00ff00"/>
<path d="M1131.8 789.0L1152.3 789.0L1142.0 807.0Z" fill="#00ff00"/>
<path d="M1138.9 787.5L1159.5 787.5L1149.2 805.5Z" fill="#00ff00"/>
<path d="M1146.1 786.0L1166.7 786.0L1156.4 804.0Z" fill="#00ff00"/>
<path d="M1153.3 784.0L1173.9 784.0L1163.6 802.0Z" fill="#00ff00"/>
<path d="M1160.5 781.0L1181.0 781.0L1170.8 799.0Z" fill="#00ff00"/>
<path d="M1167.6 778.0L1188.2 778.0L1177.9 796.0Z" fill="#00ff00"/>
<path d="M1174.8 775.0L1195.4 775.0L1185.1 793.0Z" fill="#00ff00"/>
<path d="M1182.0 771.5L1202.6 771.5L1192.3 789.5Z" fill="#00ff00"/>
<path d="M1189.2 767.5L1209.8 767.5L1199.5 785.5Z" fill="#00ff00"/>
<path d="M1196.3 763.5L1216.9 763.5L1206.6 781.5Z" fill="#00ff00"/>
<path d="M1203.5 763.2L1224.1 763.2L1213.8 781.2Z" fill="#00ff00"/>
<path d="M1210.7 235.0L1231.3 235.0L1221.0 253.0Z" fill="#00ff00"/>
<path d="M1217.9 224.2L1238.5 224.2L1228.2 242.2Z" fill="#00ff00"/>
<path d="M1225.0 217.2L1245.6 217.2L1235.3 235.2Z" fill="#00ff00"/>
<path d="M1232.2 213.3L1252.8 213.3L1242.5 231.3Z" fill="#00ff00"/>
<path d="M1239.4 210.2L1260.0 210.2L1249.7 228.2Z" fill="#00ff00"/>
<path d="M1246.5 207.9L1267.1 207.9L1256.8 225.9Z" fill="#00ff00"/>
<path d="M1253.7 205.6L1274.3 205.6L1264.0 223.6Z" fill="#00ff00"/>
<path d="M1260.9 204.0L1281.5 204.0L1271.2 222.0Z" fill="#00ff00"/>
<path d="M1268.1 203.4L1288.7 203.4L1278.4 221.4Z" fill="#00ff00"/>
<path d="M1275.2 203.2L1295.8 203.2L1285.5 221.2Z" fill="#00ff00"/>
<path d="M1282.4 203.2L1303.0 203.2L1292.7 221.2Z" fill="#00ff00"/>
<path d="M1289.6 203.2L1310.2 203.2L1299.9 221.2Z" fill="#00ff00"/>
<path d="M1296.8 775.3L1317.4 775.3L1307.1 793.3Z" fill="#00ff00"/>
<path d="M1304.0 775.5L1324.5 775.5L1314.2 793.5Z" fill="#00ff00"/>
<path d="M1311.1 776.0L1331.7 776.0L1321.4 794.0Z" fill="#00ff00"/>
<path d="M1318.3 776.5L1338.9 776.5L1328.6 794.5Z" fill="#00ff00"/>
<path d="M1325.5 779.5L1346.1 779.5L1335.8 797.5Z" fill="#00ff00"/>
<path d="M1332.7 782.0L1353.2 782.0L1343.0 800.0Z" fill="#00ff00"/>
<path d="M1339.8 784.5L1360.4 784.5L1350.1 802.5Z" fill="#00ff00"/>
<path d="M1347.0 787.0L1367.6 787.0L1357.3 805.0Z" fill="#00ff00"/>
<path d="M1354.2 789.0L1374.8 789.0L1364.5 807.0Z" fill="#00ff00"/>
<path d="M1361.4 791.0L1382.0 791.0L1371.7 809.0Z" fill="#00ff00"/>
<path d="M1368.5 793.0L1389.1 793.0L1378.8 811.0Z" fill="#00ff00"/>
<path d="M1375.7 795.0L1396.3 795.0L1386.0 813.0Z" fill="#00ff00"/>
<path d="M1382.9 252.8L1403.5 252.8L1393.2 270.8Z" fill="#00ff00"/>
<path d="M1390.0 250.0L1410.6 250.0L1400.3 268.0Z" fill="#00ff00"/>
<path d="M1397.2 247.0L1417.8 247.0L1407.5 265.0Z" fill="#00ff00"/>
<path d="M1404.4 244.0L1425.0 244.0L1414.7 262.0Z" fill="#00ff00"/>
<path d="M1411.6 241.5L1432.2 241.5L1421.9 259.5Z" fill="#00ff00"/>
<path d="M1418.8 239.0L1439.3 239.0L1429.0 257.0Z" fill="#00ff00"/>
<path d="M1425.9 225.7L1446.5 225.7L1436.2 243.7Z" fill="#00ff00"/>
<path d="M1433.1 223.0L1453.7 223.0L1443.4 241.0Z" fill="#00ff00"/>
<path d="M1440.3 222.0L1460.9 222.0L1450.6 240.0Z" fill="#00ff00"/>
<path d="M1447.5 221.5L1468.0 221.5L1457.8 239.5Z" fill="#00ff00"/>
<path d="M1454.6 221.5L1475.2 221.5L1464.9 239.5Z" fill="#00ff00"/>
<path d="M1461.8 221.5L1482.4 221.5L1472.1 239.5Z" fill="#00ff00"/>
<rect x="919.3" y="6.5" width="609.7" height="1010.5" fill="none" stroke="#000" stroke-width="5.3" stroke-linejoin="round"/>
<path d="M911.1 1017.1H919.3 M911.1 984.1H919.3 M911.1 958.5H919.3 M911.1 937.5H919.3 M911.1 919.8H919.3 M911.1 904.5H919.3 M911.1 891.0H919.3 M903.3 878.9H919.3 M911.1 799.3H919.3 M911.1 752.8H919.3 M911.1 719.8H919.3 M911.1 694.2H919.3 M911.1 673.2H919.3 M911.1 655.5H919.3 M911.1 640.2H919.3 M911.1 626.7H919.3 M903.3 614.6H919.3 M911.1 535.0H919.3 M911.1 488.5H919.3 M911.1 455.5H919.3 M911.1 429.9H919.3 M911.1 408.9H919.3 M911.1 391.2H919.3 M911.1 375.9H919.3 M911.1 362.4H919.3 M903.3 350.3H919.3 M911.1 270.7H919.3 M911.1 224.2H919.3 M911.1 191.2H919.3 M911.1 165.6H919.3 M911.1 144.6H919.3 M911.1 126.9H919.3 M911.1 111.6H919.3 M911.1 98.1H919.3 M903.3 86.0H919.3 M911.1 6.4H919.3" stroke="#000" stroke-width="5.2" stroke-linecap="round" fill="none"/>
<path d="M954.4 1017V1031.6 M1026.2 1017V1023.8 M1098.1 1017V1031.6 M1170.0 1017V1023.8 M1241.8 1017V1031.6 M1313.7 1017V1023.8 M1385.5 1017V1031.6 M1457.3 1017V1023.8 M1529.2 1017V1031.6" stroke="#000" stroke-width="5.2" stroke-linecap="round" fill="none"/>
<text x="954.4" y="1074" text-anchor="middle" font-family='"Liberation Serif", "DejaVu Serif", serif' font-weight="bold" font-size="42">0</text>
<text x="1098.1" y="1074" text-anchor="middle" font-family='"Liberation Serif", "DejaVu Serif", serif' font-weight="bold" font-size="42">100</text>
<text x="1241.8" y="1074" text-anchor="middle" font-family='"Liberation Serif", "DejaVu Serif", serif' font-weight="bold" font-size="42">200</text>
<text x="1385.5" y="1074" text-anchor="middle" font-family='"Liberation Serif", "DejaVu Serif", serif' font-weight="bold" font-size="42">300</text>
<text x="1529.2" y="1074" text-anchor="middle" font-family='"Liberation Serif", "DejaVu Serif", serif' font-weight="bold" font-size="42">400</text>
<text x="881" y="895.9" text-anchor="end" font-family='"Liberation Serif", "DejaVu Serif", serif' font-weight="bold" font-size="43.5">10</text>
<text x="881.0" y="872.9" font-family='"Liberation Serif", "DejaVu Serif", serif' font-weight="bold" font-size="25">1</text>
<text x="881" y="631.6" text-anchor="end" font-family='"Liberation Serif", "DejaVu Serif", serif' font-weight="bold" font-size="43.5">10</text>
<text x="881.0" y="608.6" font-family='"Liberation Serif", "DejaVu Serif", serif' font-weight="bold" font-size="25">2</text>
<text x="881" y="367.3" text-anchor="end" font-family='"Liberation Serif", "DejaVu Serif", serif' font-weight="bold" font-size="43.5">10</text>
<text x="881.0" y="344.3" font-family='"Liberation Serif", "DejaVu Serif", serif' font-weight="bold" font-size="25">3</text>
<text x="881" y="103.0" text-anchor="end" font-family='"Liberation Serif", "DejaVu Serif", serif' font-weight="bold" font-size="43.5">10</text>
<text x="881.0" y="80.0" font-family='"Liberation Serif", "DejaVu Serif", serif' font-weight="bold" font-size="25">4</text>
<text x="1240" y="1114.5" text-anchor="middle" font-family='"Liberation Serif", "DejaVu Serif", serif' font-weight="bold" font-size="45">Time(s)</text>
<text transform="translate(816.8 543) rotate(-90)" text-anchor="middle" font-family='"Liberation Serif", "DejaVu Serif", serif' font-weight="bold" font-size="44.5" textLength="287" lengthAdjust="spacing">Viscosity (Pas)</text>
<text x="922.5" y="48.3" font-family='"Liberation Sans", "DejaVu Sans", sans-serif' font-weight="bold" font-size="41.5">(b)</text>
<rect x="962" y="913" width="16" height="15" fill="#000"/>
<circle cx="970" cy="952.5" r="9.5" fill="#ff0000"/>
<path d="M959 978L981 978L970 997Z" fill="#00ff00"/>
<text x="1000" y="927" font-family='"Liberation Sans", "DejaVu Sans", sans-serif' font-size="25.5" stroke="#000" stroke-width="0.3" textLength="491" lengthAdjust="spacingAndGlyphs">FmocFF 0.5% / IDM 0.5% / PAMAM 0.03%</text>
<text x="1000" y="959" font-family='"Liberation Sans", "DejaVu Sans", sans-serif' font-size="25.5" stroke="#000" stroke-width="0.3" textLength="491" lengthAdjust="spacingAndGlyphs">FmocFF 0.6% / IDM 0.4% / PAMAM 0.03%</text>
<text x="1000" y="991" font-family='"Liberation Sans", "DejaVu Sans", sans-serif' font-size="25.5" stroke="#000" stroke-width="0.3" textLength="491" lengthAdjust="spacingAndGlyphs">FmocFF 0.9% / IDM 0.1% / PAMAM 0.03%</text>
</g>
<g id="photo-c">
<defs>
<linearGradient id="bgd" x1="0" y1="0" x2="0" y2="1">
<stop offset="0" stop-color="#383e50"/><stop offset="0.1" stop-color="#333a4c"/><stop offset="0.27" stop-color="#2e3347"/><stop offset="0.52" stop-color="#2b3046"/><stop offset="0.75" stop-color="#272c47"/><stop offset="0.92" stop-color="#232844"/><stop offset="1" stop-color="#24283f"/>
</linearGradient>
<linearGradient id="tbl" x1="0" y1="0" x2="0" y2="1">
<stop offset="0.000" stop-color="#8ca6d2"/><stop offset="0.034" stop-color="#7d99cb"/><stop offset="0.101" stop-color="#7390c4"/><stop offset="0.212" stop-color="#7391c6"/><stop offset="0.361" stop-color="#7c9ad0"/><stop offset="0.547" stop-color="#86a4d8"/><stop offset="0.734" stop-color="#91aee0"/><stop offset="0.864" stop-color="#9cb8e8"/><stop offset="0.939" stop-color="#a6c2ee"/><stop offset="1.000" stop-color="#9ebcec"/>
</linearGradient>
<linearGradient id="tblL" x1="0" y1="0" x2="0" y2="1">
<stop offset="0.000" stop-color="#44598a" stop-opacity="0"/><stop offset="0.063" stop-color="#44598a" stop-opacity="0.06"/><stop offset="0.156" stop-color="#44598a" stop-opacity="0.16"/><stop offset="0.399" stop-color="#44598a" stop-opacity="0.18"/><stop offset="0.547" stop-color="#44598a" stop-opacity="0.14"/><stop offset="0.641" stop-color="#44598a" stop-opacity="0.2"/><stop offset="0.726" stop-color="#44598a" stop-opacity="0.36"/><stop offset="0.801" stop-color="#44598a" stop-opacity="0.3"/><stop offset="0.875" stop-color="#44598a" stop-opacity="0.06"/><stop offset="0.920" stop-color="#44598a" stop-opacity="0.0"/><stop offset="1.000" stop-color="#44598a" stop-opacity="0"/>
</linearGradient>
<linearGradient id="hub" x1="0" y1="0" x2="0" y2="1">
<stop offset="0" stop-color="#a5a53f"/><stop offset="0.3" stop-color="#a4a43b"/><stop offset="0.5" stop-color="#b0b03a"/><stop offset="0.62" stop-color="#bcbc3c"/><stop offset="1" stop-color="#c2c03e"/>
</linearGradient>
<linearGradient id="hubx" x1="0" y1="0" x2="1" y2="0">
<stop offset="0" stop-color="#55561c" stop-opacity="0.35"/><stop offset="0.16" stop-color="#55561c" stop-opacity="0.05"/><stop offset="0.5" stop-color="#ffffa0" stop-opacity="0.06"/><stop offset="0.84" stop-color="#55561c" stop-opacity="0.05"/><stop offset="1" stop-color="#55561c" stop-opacity="0.3"/>
</linearGradient>
<linearGradient id="skirt" x1="0" y1="0" x2="1" y2="0">
<stop offset="0" stop-color="#848748"/><stop offset="0.5" stop-color="#94964e"/><stop offset="1" stop-color="#808344"/>
</linearGradient>
<linearGradient id="core" x1="0" y1="0" x2="0" y2="1">
<stop offset="0" stop-color="#bcb934"/><stop offset="0.5" stop-color="#c6c034"/><stop offset="0.72" stop-color="#d6d044"/><stop offset="0.85" stop-color="#eae660"/><stop offset="1" stop-color="#f4f07a"/>
</linearGradient>
<linearGradient id="cone" x1="0" y1="0" x2="0" y2="1">
<stop offset="0" stop-color="#f6f2e2"/><stop offset="1" stop-color="#a29e98"/>
</linearGradient>
<linearGradient id="ndl" x1="0" y1="0" x2="1" y2="0">
<stop offset="0" stop-color="#7f6a4c"/><stop offset="0.45" stop-color="#b69868"/><stop offset="1" stop-color="#866f4e"/>
</linearGradient>
<linearGradient id="wallL" x1="0" y1="0" x2="0" y2="1">
<stop offset="0" stop-color="#737a8c" stop-opacity="0.7"/><stop offset="0.4" stop-color="#5f6a86" stop-opacity="0.8"/><stop offset="0.47" stop-color="#8ea2cc" stop-opacity="0.9"/><stop offset="1" stop-color="#9db2dc" stop-opacity="0.9"/>
</linearGradient>
<linearGradient id="inner" x1="0" y1="0" x2="0" y2="1">
<stop offset="0" stop-color="#5e564c"/><stop offset="0.12" stop-color="#4f4c4e"/><stop offset="0.3" stop-color="#484a58"/><stop offset="0.6" stop-color="#474b5b"/><stop offset="1" stop-color="#484e62"/>
</linearGradient>
<linearGradient id="innerR" x1="0" y1="0" x2="1" y2="0">
<stop offset="0" stop-color="#20243a" stop-opacity="0"/><stop offset="0.45" stop-color="#20243a" stop-opacity="0"/><stop offset="0.6" stop-color="#20243a" stop-opacity="0"/><stop offset="1" stop-color="#20243a" stop-opacity="0"/>
</linearGradient>
<linearGradient id="lower" x1="0" y1="0" x2="0" y2="1">
<stop offset="0" stop-color="#8da4cc"/><stop offset="0.5" stop-color="#7f98c6"/><stop offset="1" stop-color="#7a94c4"/>
</linearGradient>
<radialGradient id="gel" cx="0.5" cy="0.62" r="0.72">
<stop offset="0" stop-color="#ffffff"/><stop offset="0.8" stop-color="#fefefc"/><stop offset="1" stop-color="#edf2f9"/>
</radialGradient>
<filter id="b1" x="-10%" y="-10%" width="120%" height="120%"><feGaussianBlur stdDeviation="1.3"/></filter>
<filter id="b2" x="-20%" y="-20%" width="140%" height="140%"><feGaussianBlur stdDeviation="2.4"/></filter>
<filter id="b3" x="-20%" y="-20%" width="140%" height="140%"><feGaussianBlur stdDeviation="3"/></filter>
<filter id="b4" x="-30%" y="-30%" width="160%" height="160%"><feGaussianBlur stdDeviation="4.5"/></filter>
<filter id="b8" x="-40%" y="-40%" width="180%" height="180%"><feGaussianBlur stdDeviation="10"/></filter>
<clipPath id="pc"><path d="M1598.5 13.6H1891V15.2H1996.3V1022.8H1598.5Z"/></clipPath>
</defs>
<g clip-path="url(#pc)">
<rect x="1598.5" y="13.6" width="397.79999999999995" height="740.4" fill="url(#bgd)"/>
<rect x="1598.5" y="753" width="397.79999999999995" height="269.79999999999995" fill="url(#tbl)"/>
<rect x="1599" y="752" width="398" height="6" fill="#98aed6" opacity="0.8" filter="url(#b1)"/>
<rect x="1598" y="753" width="176" height="268.5" fill="url(#tblL)"/>
<rect x="1598" y="1020.6" width="399" height="2.4" fill="#8fa6d6" opacity="0.8"/>
<g filter="url(#b2)">
<path d="M1761 752 H1921 V962 Q1921 984 1841 986 Q1761 984 1761 962 Z" fill="url(#lower)" opacity="0.75"/>
<path d="M1761 612 Q1761 578 1790 574 L1892 574 Q1921 578 1921 612 L1921 740 Q1921 756 1905 756 L1777 756 Q1761 756 1761 740 Z" fill="url(#inner)"/>
<path d="M1761 612 Q1761 578 1790 574 L1892 574 Q1921 578 1921 612 L1921 740 Q1921 756 1905 756 L1777 756 Q1761 756 1761 740 Z" fill="url(#innerR)"/>
<rect x="1759.5" y="600" width="13" height="372" fill="url(#wallL)"/>
<rect x="1908" y="600" width="13" height="372" fill="url(#wallL)"/>
<path d="M1776 690 L1769 765 L1769 900" stroke="#b2c2e0" stroke-width="6" opacity="0.45" fill="none"/>
<path d="M1903 670 L1911 765 L1911 900" stroke="#b2c2e0" stroke-width="6" opacity="0.45" fill="none"/>
<path d="M1825 592 L1827 795" stroke="#959db2" stroke-width="9" opacity="0.85" fill="none"/>
<path d="M1898 770 V950" stroke="#90a6ce" stroke-width="7" opacity="0.55" fill="none"/>
</g>
<g fill="#8f98b0" opacity="0.5" filter="url(#b1)"><circle cx="1846" cy="737" r="3"/><circle cx="1857" cy="735" r="3"/><circle cx="1867" cy="742" r="3"/><circle cx="1852" cy="748" r="3"/><circle cx="1863" cy="752" r="3"/><circle cx="1874" cy="750" r="3"/><circle cx="1858" cy="760" r="3"/></g>
<g filter="url(#b3)">
<path d="M1788 473 Q1788 468 1800 468 L1884 469 Q1893 471 1893 478 L1895 488 Q1902 495 1901 508 Q1899 520 1895 526 L1894 548 Q1896 560 1907 566 Q1911 576 1902 586 L1780 586 Q1770 576 1774 566 Q1786 560 1787 548 L1787 526 Q1780 518 1781 505 Q1782 494 1788 488 Z" fill="#70737a"/>
<rect x="1789.5" y="469.3" width="103.0" height="7.9" rx="3" fill="#8f949a" opacity="0.9"/>
<rect x="1829.2" y="472.8" width="49.6" height="8.9" rx="3" fill="#3c4152" opacity="0.9"/>
<rect x="1873.8" y="471.8" width="19.9" height="17.9" rx="3" fill="#a4a8ac" opacity="0.8"/>
<rect x="1789.5" y="477.2" width="29.8" height="9.9" rx="3" fill="#70747c" opacity="0.8"/>
<rect x="1782.0" y="487.6" width="119.1" height="14.4" rx="6" fill="#9a9c98" opacity="0.75"/>
<ellipse cx="1792.0" cy="493.3" rx="9.4" ry="7.4" fill="#d4d2b4" opacity="0.9"/>
<ellipse cx="1844.1" cy="499.1" rx="18.6" ry="5.5" fill="#ddd5a2" opacity="0.9"/>
<ellipse cx="1888.7" cy="503.3" rx="11.2" ry="7.4" fill="#b9b8a6" opacity="0.85"/>
<rect x="1794.4" y="504.0" width="84.4" height="7.9" rx="3" fill="#50545e" opacity="0.8"/>
<rect x="1781.5" y="512.5" width="117.6" height="14.4" rx="6" fill="#9c9e9c" opacity="0.75"/>
<ellipse cx="1794.4" cy="518.9" rx="12.4" ry="6.0" fill="#c6c6b6" opacity="0.9"/>
<ellipse cx="1849.0" cy="519.9" rx="19.9" ry="4.5" fill="#c9c6ac" opacity="0.8"/>
<ellipse cx="1891.2" cy="530.6" rx="7.4" ry="8.4" fill="#cfc792" opacity="0.85"/>
<rect x="1787.5" y="531.8" width="106.2" height="27.3" rx="3" fill="#6c7078" opacity="0.8"/>
<rect x="1789.5" y="534.3" width="29.8" height="22.3" rx="3" fill="#9a9ea4" opacity="0.7"/>
<rect x="1831.7" y="538.0" width="49.6" height="22.3" rx="3" fill="#41393e" opacity="0.9"/>
<rect x="1881.3" y="536.8" width="12.4" height="22.3" rx="3" fill="#8a8e94" opacity="0.7"/>
<rect x="1774.1" y="561.6" width="134.0" height="13.6" rx="8" fill="#a9aba8" opacity="0.85"/>
<ellipse cx="1794.4" cy="579.0" rx="19.9" ry="6.9" fill="#a4a49a" opacity="0.8"/>
<ellipse cx="1893.7" cy="581.4" rx="13.6" ry="6.9" fill="#8d8a80" opacity="0.7"/>
</g>
<ellipse cx="1854.0" cy="583.4" rx="26.1" ry="8.4" fill="#fffbe2" opacity="1" filter="url(#b2)"/>
<ellipse cx="1857.7" cy="613.7" rx="7.4" ry="3.5" fill="#9a8276" opacity="0.8" filter="url(#b2)"/>
<path d="M1763 948 Q1764 972 1800 981 Q1840 989 1880 981 Q1916 972 1918 950 Q1880 940 1840 940 Q1800 940 1763 948 Z" fill="#b9b188" filter="url(#b1)"/>
<path d="M1768 950 Q1770 970 1803 978 Q1840 984 1877 977 Q1910 970 1913 950 Q1880 938 1840 938 Q1800 938 1768 950 Z" fill="#efe9cc" filter="url(#b1)"/>
<path d="M1764 944 Q1772 964 1800 971" stroke="#6f7480" stroke-width="5" fill="none" opacity="0.6" filter="url(#b2)"/>
<ellipse cx="1777" cy="944" rx="13" ry="10" fill="#667090" opacity="0.55" filter="url(#b2)"/>
<polygon points="1810.8,794.4 1824.1,797.7 1837.4,808.8 1846.2,824.3 1859.5,842.0 1861.8,853.1 1877.3,868.6 1888.3,884.1 1895.0,899.7 1899.4,917.4 1906.1,932.9 1908.3,948.4 1899.4,957.3 1855.1,963.9 1810.8,961.7 1795.3,950.6 1784.2,939.5 1766.5,924.0 1762.0,904.1 1763.2,881.9 1768.7,866.4 1777.6,857.6 1788.6,853.1 1789.7,833.2 1795.3,815.5 1801.9,799.9" fill="url(#gel)" stroke="#fff" stroke-width="3" stroke-linejoin="round" filter="url(#b1)"/>
<path d="M1838 803 L1851 789 Q1858 786 1859 794 L1846 806" stroke="#c5cbd4" stroke-width="4" fill="none" filter="url(#b1)"/>
<circle cx="1937" cy="962" r="3" fill="#c9d3e8" filter="url(#b1)"/>
<circle cx="1972" cy="1002" r="2.5" fill="#c9d3e8" filter="url(#b1)"/>
<g filter="url(#b1)">
<path d="M1815.3 180 L1825.3 180 L1828.6 566 L1817.8 566 Z" fill="url(#ndl)"/>
<path d="M1780.5 12 H1854 L1852 86 L1850 146 L1836 147 L1836 166 L1803 166 L1803 147 L1788 146 L1784 86 Z" fill="url(#hub)"/>
<path d="M1780.5 12 H1854 L1852 86 L1850 146 L1788 146 L1784 86 Z" fill="url(#hubx)"/>
<path d="M1785 86 L1800 95 L1800 147 L1788 146 Z" fill="url(#skirt)"/>
<path d="M1851 86 L1837 95 L1837 147 L1850 146 Z" fill="url(#skirt)"/>
<rect x="1802" y="94" width="34" height="72" fill="url(#core)"/>
<path d="M1803 165 H1836 L1826 183 H1815 Z" fill="url(#cone)"/>
</g>
</g>
<rect x="1607.5" y="25" width="141.3" height="104" fill="#fff" stroke="#000" stroke-width="4.6"/>
<text x="1670.5" y="87" text-anchor="middle" font-family='"Liberation Sans", "DejaVu Sans", sans-serif' font-weight="bold" font-size="46">(c)</text>
</g>
</svg>
</body></html>
